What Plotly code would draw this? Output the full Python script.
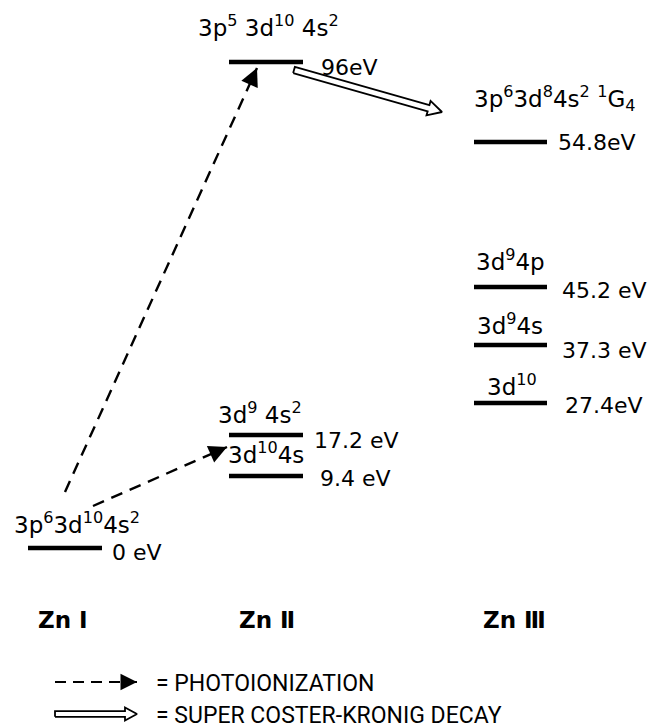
import numpy as np
import plotly.graph_objects as go

# ---------------- data ----------------
ion_stages = ["Zn I", "Zn II", "Zn III"]
level_ion = ["Zn I", "Zn II", "Zn II", "Zn II", "Zn III", "Zn III", "Zn III", "Zn III"]
level_config = [
    "3p<sup>6</sup>3d<sup>10</sup>4s<sup>2</sup>",
    "3d<sup>10</sup>4s",
    "3d<sup>9</sup> 4s<sup>2</sup>",
    "3p<sup>5</sup> 3d<sup>10</sup> 4s<sup>2</sup>",
    "3d<sup>10</sup>",
    "3d<sup>9</sup>4s",
    "3d<sup>9</sup>4p",
    "3p<sup>6</sup>3d<sup>8</sup>4s<sup>2</sup> <sup>1</sup>G<sub>4</sub>",
]
level_energy_ev = [0, 9.4, 17.2, 96, 27.4, 37.3, 45.2, 54.8]
energy_text = ["0 eV", "9.4 eV", "17.2 eV", "96eV", "27.4eV", "37.3 eV", "45.2 eV", "54.8eV"]
ion_text = ["Zn \u2160", "Zn \u2161", "Zn \u2162"]   # Zn I, Zn II, Zn III
legend_text = ["= PHOTOIONIZATION", "= SUPER COSTER-KRONIG DECAY"]

# ---------------- schematic layout (diagram coordinates, not to scale) ----------------
W, H = 652, 728
col_left = {"Zn I": 28, "Zn II": 229, "Zn III": 474}
col_right = {"Zn I": 102, "Zn II": 303, "Zn III": 547}
level_y = [548, 476, 435, 62, 403, 345, 287, 142]
label_x = [12, 266, 260, 268, 512, 510, 510, 472]
label_anchor = ["left", "center", "center", "center", "center", "center", "center", "left"]
label_base = [535, 465, 425, 38, 397, 336, 272, 112]
energy_x = [110, 318, 312, 319, 563, 560, 560, 556]
energy_y = [552, 478, 440, 67, 405, 350, 290, 142]
ion_label_x = [36, 237, 481]
ion_label_y = 620
legend_y = [682, 714]

FONT = "'DejaVu Sans', sans-serif"
LFONT = "Roboto, 'Liberation Sans', sans-serif"
fig = go.Figure()

# level lines
for i, ion in enumerate(level_ion):
    fig.add_trace(go.Scatter(x=[col_left[ion], col_right[ion]], y=[level_y[i], level_y[i]],
                             mode="lines", line=dict(color="black", width=4.5),
                             hoverinfo="skip", showlegend=False))

annotations = []

def dashed_arrow(x0, y0, x1, y1, dash="12px,8px", width=2.4):
    fig.add_trace(go.Scatter(x=[x0, x1], y=[y0, y1], mode="lines",
                             line=dict(color="black", width=width, dash=dash),
                             hoverinfo="skip", showlegend=False))
    d = np.array([x1 - x0, y1 - y0], float)
    d /= np.hypot(*d)
    annotations.append(dict(x=x1, y=y1, ax=x1 - d[0] * 14, ay=y1 - d[1] * 14,
                            xref="x", yref="y", axref="x", ayref="y",
                            showarrow=True, arrowhead=2, arrowsize=1.5, arrowwidth=width,
                            arrowcolor="black", text=""))

def hollow_arrow(x0, y0, x1, y1, w=3.2, hl=14, hw=7.5):
    p0 = np.array([x0, y0], float)
    p1 = np.array([x1, y1], float)
    d = p1 - p0
    d /= np.hypot(*d)
    n = np.array([-d[1], d[0]])
    b = p1 - d * hl
    pts = [p0 + n * w, b + n * w, b + n * hw, p1, b - n * hw, b - n * w, p0 - n * w, p0 + n * w]
    xs, ys = zip(*pts)
    fig.add_trace(go.Scatter(x=xs, y=ys, mode="lines", line=dict(color="black", width=1.8),
                             fill="toself", fillcolor="white",
                             hoverinfo="skip", showlegend=False))

# photoionization arrows
dashed_arrow(93, 506, 227, 447)
dashed_arrow(65, 492, 257, 68)
# super Coster-Kronig decay
hollow_arrow(294, 70, 442, 112)

# level labels
for i in range(len(level_ion)):
    annotations.append(dict(x=label_x[i], y=label_base[i] + 5, text=level_config[i],
                            xanchor=label_anchor[i], yanchor="bottom", showarrow=False,
                            font=dict(family=FONT, size=23, color="black")))
    annotations.append(dict(x=energy_x[i], y=energy_y[i], text=energy_text[i],
                            xanchor="left", yanchor="middle", showarrow=False,
                            font=dict(family=FONT, size=22, color="black")))

# ion stage labels
for k, t in enumerate(ion_text):
    annotations.append(dict(x=ion_label_x[k], y=ion_label_y, text="<b>" + t + "</b>",
                            xanchor="left", yanchor="middle", showarrow=False,
                            font=dict(family=FONT, size=23, color="black")))

# legend
dashed_arrow(55, legend_y[0], 137, legend_y[0], dash="11px,7px", width=2.2)
hollow_arrow(55, legend_y[1], 137, legend_y[1], w=2.8, hl=12, hw=6.5)
for j, t in enumerate(legend_text):
    annotations.append(dict(x=154, y=legend_y[j] + 1, text=t, xanchor="left", yanchor="middle",
                            showarrow=False, font=dict(family=LFONT, size=23, color="black")))

fig.update_layout(
    width=W, height=H, margin=dict(l=0, r=0, t=0, b=0),
    paper_bgcolor="white", plot_bgcolor="white",
    xaxis=dict(range=[0, W], visible=False, fixedrange=True),
    yaxis=dict(range=[H, 0], visible=False, fixedrange=True),
    annotations=annotations, showlegend=False,
)
fig.write_html("out.html", config={"displayModeBar": False},
               post_script="document.body.style.margin='0';document.body.style.overflow='hidden';")
